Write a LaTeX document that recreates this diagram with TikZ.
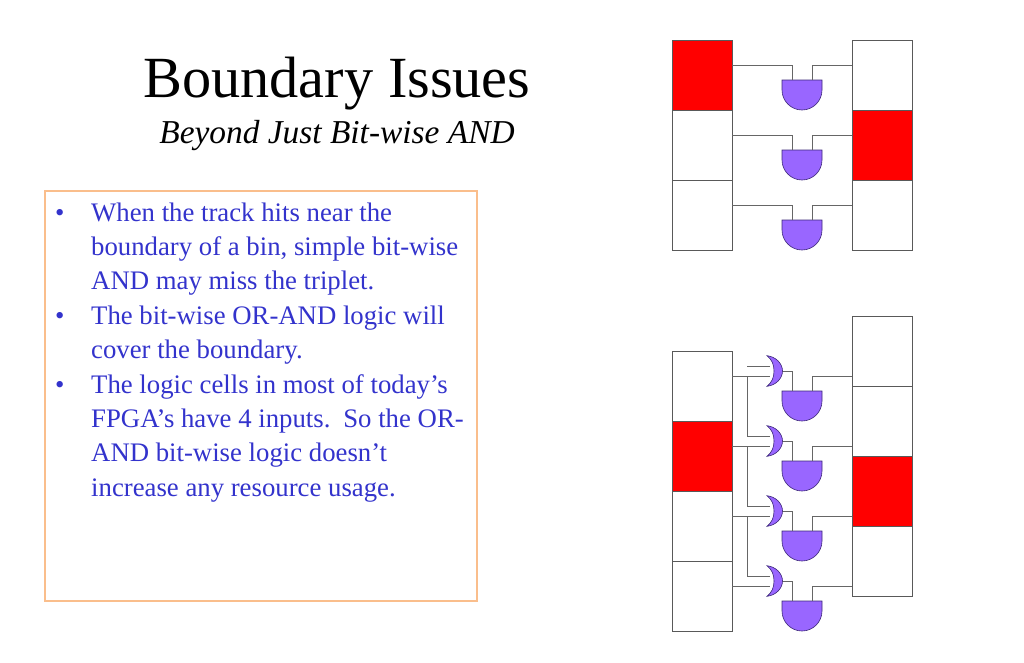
\documentclass[tikz,border=0pt]{standalone}
\usepackage{fontspec}
\usetikzlibrary{positioning}
\setmainfont{Liberation Serif}
\definecolor{gatefill}{RGB}{153,102,255}
\definecolor{gateline}{RGB}{60,40,120}
\definecolor{boxline}{RGB}{250,190,140}
\definecolor{bluetext}{RGB}{51,51,204}
\begin{document}
\begin{tikzpicture}[x=1pt,y=-1pt,line join=miter]
    \tikzset{
        cell/.style={draw=black!65,line width=0.8pt,fill=white,minimum width=60pt,minimum height=70pt,inner sep=0pt,outer sep=0pt},
        hit/.style={cell,fill=red},
        wire/.style={draw=black!60,line width=0.8pt},
        gate/.style={fill=gatefill,draw=gateline,line width=0.6pt},
        bullet/.style={anchor=north west,inner sep=0pt,text=bluetext,font=\fontsize{26.75}{34.3}\selectfont,align=left},
    }
    % and gate, top left corner at #2,#3
    \newcommand\andgate[3]{
        \begin{scope}[shift={(#2,#3)}]
            \draw[gate] (0,0)--(40,0)--(40,10)..controls(40,21) and (31,30)..(20,30)
                ..controls(9,30) and (0,21)..(0,10)--cycle;
            \coordinate (#1-p) at (10,-15);
            \coordinate (#1-q) at (30,-15);
            \coordinate (#1-a) at (10,0);
            \coordinate (#1-b) at (30,0);
        \end{scope}
    }
    % or gate, upper horn at #2,#3
    \newcommand\orgate[3]{
        \begin{scope}[shift={(#2,#3)}]
            \draw[gate] (0,0)..controls(9,1) and (15.5,8)..(15.5,15.3)
                ..controls(15.5,22.6) and (9,29.6)..(0,30.6)
                ..controls(5,26.6) and (7,21.6)..(7,15.3)
                ..controls(7,9) and (5,4)..cycle;
            \coordinate (#1-o) at (15.5,15.3);
        \end{scope}
    }
    \useasboundingbox (0,0) rectangle (1024,662);

    \node[anchor=base,inner sep=0pt,font=\fontsize{58.3}{60}\selectfont] (title) at (337,97) {Boundary Issues};
    \node[anchor=base,inner sep=0pt,font=\fontsize{33.4}{36}\selectfont\itshape] (subtitle) at (337,143.5) {Beyond Just Bit-wise AND};

    \draw[draw=boxline,line width=1.1pt] (45,191) rectangle (477,601);
    \node[bullet] (b1) at (55,197) {\strut•};
    \node[bullet] (t1) at (91,197) {\strut When the track hits near the\\boundary of a bin, simple bit-wise\\AND may miss the triplet.};
    \node[bullet] (b2) at (55,300) {\strut•};
    \node[bullet] (t2) at (91,300) {\strut The bit-wise OR-AND logic will\\cover the boundary.};
    \node[bullet] (b3) at (55,369) {\strut•};
    \node[bullet] (t3) at (91,369) {\strut The logic cells in most of today’s\\FPGA’s have 4 inputs.\hspace{4pt} So the OR-\\AND bit-wise logic doesn’t\\increase any resource usage.};

    % upper picture
    \node[hit,anchor=north west] (la1) at (672,40) {};
    \node[cell,below=0pt of la1] (la2) {};
    \node[cell,below=0pt of la2] (la3) {};
    \node[cell,anchor=north west] (ra1) at (852,40) {};
    \node[hit,below=0pt of ra1] (ra2) {};
    \node[cell,below=0pt of ra2] (ra3) {};
    \foreach \i/\y in {1/80,2/150,3/220}{
        \andgate{ga\i}{782}{\y}
        \draw[wire] (la\i.east |- ga\i-p) -- (ga\i-p) -- (ga\i-a);
        \draw[wire] (ra\i.west |- ga\i-q) -- (ga\i-q) -- (ga\i-b);
    }

    % lower picture
    \node[cell,anchor=north west] (lb1) at (672,351) {};
    \node[hit,below=0pt of lb1] (lb2) {};
    \node[cell,below=0pt of lb2] (lb3) {};
    \node[cell,below=0pt of lb3] (lb4) {};
    \node[cell,anchor=north west] (rb1) at (852,316) {};
    \node[cell,below=0pt of rb1] (rb2) {};
    \node[hit,below=0pt of rb2] (rb3) {};
    \node[cell,below=0pt of rb3] (rb4) {};
    \coordinate (st) at (747,366);
    \draw[wire] (st) -- ++(23,0);
    \foreach \i/\y in {1/391,2/461,3/531,4/601}{
        \andgate{gb\i}{782}{\y}
        \coordinate (in\i) at (747,\y-15);
        \draw[wire] (lb\i.east |- in\i) -- ++(38,0);
        \draw[wire] (rb\i.west |- gb\i-q) -- (gb\i-q) -- (gb\i-b);
    }
    \draw[wire] (in1) -- ++(0,60) -- ++(23,0);
    \draw[wire] (in2) -- ++(0,60) -- ++(23,0);
    \draw[wire] (in3) -- ++(0,60) -- ++(23,0);
    \foreach \i/\y in {1/355.7,2/425.7,3/495.7,4/565.7}{
        \orgate{ob\i}{767}{\y}
        \draw[wire] (ob\i-o) -| (gb\i-a);
    }
\end{tikzpicture}
\end{document}
